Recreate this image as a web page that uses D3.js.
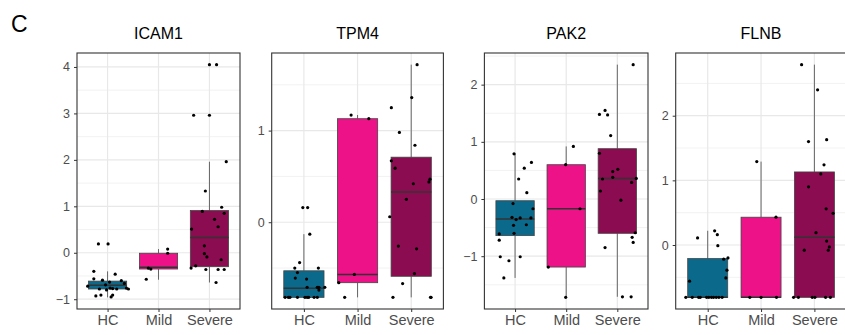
<!DOCTYPE html>
<html>
<head>
<meta charset="utf-8">
<script src="https://cdn.jsdelivr.net/npm/d3@7"></script>
<style>
  body { margin: 0; background: #fff; }
  svg { display: block; font-family: "Liberation Sans", Arial, Helvetica, sans-serif; }
</style>
</head>
<body>
<div id="chart"></div>
<script>
var genes = ["ICAM1", "TPM4", "PAK2", "FLNB"];
var groups = ["HC", "Mild", "Severe"];
var groupColors = ["#0b6a8b", "#ee1289", "#8b0c50"];

// y tick labels per gene
var icam1Ticks = [-1, 0, 1, 2, 3, 4];
var tpm4Ticks = [0, 1];
var pak2Ticks = [-1, 0, 1, 2];
var flnbTicks = [0, 1, 2];

// box stats: [lower whisker, q1, median, q3, upper whisker] for HC, Mild, Severe
var icam1Boxes = [[-0.96, -0.78, -0.70, -0.61, -0.40], [-0.58, -0.35, -0.31, -0.01, 0.08], [-0.64, -0.30, 0.33, 0.91, 1.96]];
var tpm4Boxes = [[-0.82, -0.82, -0.72, -0.53, -0.13], [-0.82, -0.66, -0.57, 1.13, 1.17], [-0.82, -0.59, 0.33, 0.71, 1.72]];
var pak2Boxes = [[-1.38, -0.64, -0.35, -0.03, 0.79], [-1.72, -1.19, -0.17, 0.60, 0.92], [-1.71, -0.60, 0.36, 0.88, 2.35]];
var flnbBoxes = [[-0.81, -0.81, -0.81, -0.21, 0.22], [-0.81, -0.81, -0.81, 0.43, 1.29], [-0.81, -0.81, 0.12, 1.13, 2.79]];

// points (values) and their horizontal jitter (in category units)
var icam1HC = [0.19, 0.19, -0.40, -0.46, -0.56, -0.59, -0.60, -0.63, -0.69, -0.72, -0.66, -0.76, -0.77, -0.78, -0.78, -0.76, -0.78, -0.93, -0.91, -0.95, -0.91, -0.80];
var icam1HCJit = [-0.18, 0.01, -0.27, 0.15, -0.27, -0.10, 0.27, 0.04, -0.04, -0.39, 0.33, 0.05, 0.10, -0.16, 0.18, 0.37, 0.41, -0.23, -0.13, 0.07, 0.10, -0.02];
var icam1Mild = [0.08, -0.01, -0.33, -0.35, -0.57];
var icam1MildJit = [0.18, 0.18, -0.20, -0.15, -0.24];
var icam1Severe = [4.05, 4.05, 2.96, 2.96, 1.96, 1.33, 0.89, 0.98, 0.85, 0.72, 0.56, 0.51, 0.15, -0.02, -0.09, -0.15, -0.33, -0.28, -0.36, -0.36, -0.36, -0.64];
var icam1SevereJit = [0, 0.14, -0.31, 0, 0.33, -0.08, -0.14, 0.24, 0.29, 0.10, 0.17, -0.35, -0.10, -0.10, -0.05, 0.23, -0.36, -0.27, -0.07, 0.17, 0.29, 0.13];

var tpm4HC = [0.16, 0.16, -0.13, -0.44, -0.50, -0.55, -0.50, -0.62, -0.61, -0.71, -0.71, -0.71, -0.71, -0.74, -0.82, -0.82, -0.82, -0.82, -0.82, -0.82, -0.82, -0.82, -0.82];
var tpm4HCJit = [-0.02, 0.07, 0.11, -0.08, -0.17, -0.12, 0.27, 0.05, -0.16, 0.28, 0.06, 0.25, 0.39, 0.28, -0.35, -0.29, -0.26, -0.12, 0.02, 0.06, 0.09, 0.19, 0.25];
var tpm4Mild = [1.17, 1.13, -0.57, -0.66, -0.82];
var tpm4MildJit = [-0.12, 0.21, -0.06, -0.35, -0.24];
var tpm4Severe = [1.72, 1.36, 1.25, 0.98, 0.84, 0.67, 0.59, 0.47, 0.44, 0.42, 0.25, 0.06, -0.26, -0.29, -0.56, -0.67, -0.82, -0.82, -0.82];
var tpm4SevereJit = [0.11, 0.01, -0.37, -0.22, 0.07, -0.37, -0.30, 0.35, 0.33, 0.04, -0.09, -0.40, -0.24, 0.10, 0.06, -0.16, -0.34, 0.36, 0.37];

var pak2HC = [0.79, 0.64, 0.54, 0.35, 0.11, -0.08, -0.17, -0.32, -0.33, -0.36, -0.33, -0.46, -0.45, -0.60, -0.61, -0.72, -1.01, -1.01, -1.08, -1.38];
var pak2HCJit = [-0.02, 0.32, 0.18, 0.07, 0.23, -0.04, 0.35, -0.06, 0.10, 0.02, 0.31, -0.03, 0.22, -0.02, -0.31, -0.31, -0.29, 0.10, -0.12, -0.22];
var pak2Mild = [0.92, 0.60, -0.17, -1.19, -1.72];
var pak2MildJit = [0.14, -0.01, 0.27, -0.35, -0.01];
var pak2Severe = [2.35, 1.48, 1.55, 1.47, 1.11, 0.80, 0.52, 0.48, 0.35, 0.38, 0.36, 0.29, 0.14, -0.02, -0.59, -0.67, -0.76, -0.85, -1.71, -1.71];
var pak2SevereJit = [0.31, -0.35, -0.24, -0.19, -0.13, -0.35, 0.01, -0.09, -0.29, -0.09, 0.37, 0.28, -0.33, 0.07, 0.35, 0.29, 0.31, -0.24, 0.10, 0.27];

var flnbHC = [0.22, 0.11, 0.16, -0.01, -0.20, -0.22, -0.39, -0.51, -0.56, -0.81, -0.81, -0.81, -0.81, -0.81, -0.81, -0.81, -0.81, -0.81, -0.81, -0.81];
var flnbHCJit = [0.13, -0.19, 0.18, 0.19, 0.38, 0.30, 0.36, 0.34, -0.34, -0.41, -0.29, -0.17, -0.14, -0.02, 0.02, 0.07, 0.11, 0.16, 0.21, 0.27];
var flnbMild = [1.29, 0.43, -0.81, -0.81, -0.81];
var flnbMildJit = [-0.08, 0.28, -0.21, 0, 0.29];
var flnbSevere = [2.79, 2.40, 1.60, 1.63, 1.24, 1.10, 0.90, 0.56, 0.49, 0.19, 0.06, -0.03, -0.08, -0.08, -0.81, -0.81, -0.81, -0.81, -0.81, -0.81];
var flnbSevereJit = [-0.24, 0.06, -0.11, 0.23, 0.18, 0.12, -0.11, 0.22, 0.35, 0.03, 0.23, 0.28, 0.26, -0.19, -0.39, -0.30, -0.04, 0.01, 0.21, 0.30];

var panels = [
  { ticks: icam1Ticks, boxes: icam1Boxes, pts: [[icam1HC, icam1HCJit], [icam1Mild, icam1MildJit], [icam1Severe, icam1SevereJit]] },
  { ticks: tpm4Ticks, boxes: tpm4Boxes, pts: [[tpm4HC, tpm4HCJit], [tpm4Mild, tpm4MildJit], [tpm4Severe, tpm4SevereJit]] },
  { ticks: pak2Ticks, boxes: pak2Boxes, pts: [[pak2HC, pak2HCJit], [pak2Mild, pak2MildJit], [pak2Severe, pak2SevereJit]] },
  { ticks: flnbTicks, boxes: flnbBoxes, pts: [[flnbHC, flnbHCJit], [flnbMild, flnbMildJit], [flnbSevere, flnbSevereJit]] }
];

// layout
var W = 845, H = 335;
var plotTop = 53, plotBottom = 309;
var lefts = [77, 271.7, 484.4, 675.7];
var rights = [240, 443.4, 648, 846.4];

var svg = d3.select("#chart").append("svg").attr("width", W).attr("height", H);

svg.append("text")
  .attr("x", 11).attr("y", 32)
  .attr("font-size", 23).attr("fill", "#000")
  .text("C");

panels.forEach(function (p, k) {
  var g = svg.append("g");
  var x0 = lefts[k], x1 = rights[k];

  // y range: data extent expanded by 5%
  var all = [];
  p.pts.forEach(function (d) { all = all.concat(d[0]); });
  p.boxes.forEach(function (b) { all = all.concat(b); });
  var ext = d3.extent(all), pad = (ext[1] - ext[0]) * 0.05;
  var y = d3.scaleLinear().domain([ext[0] - pad, ext[1] + pad]).range([plotBottom, plotTop]);
  var x = d3.scalePoint().domain(groups).range([x0, x1]).padding(0.6);
  var step = x.step();

  // minor grid at midpoints
  var t = p.ticks, st = t.length > 1 ? t[1] - t[0] : 1;
  var minor = [];
  for (var v = t[0] - st / 2; v <= y.domain()[1]; v += st) {
    if (v >= y.domain()[0]) minor.push(v);
  }
  g.selectAll(".minor").data(minor).enter().append("line")
    .attr("x1", x0).attr("x2", x1)
    .attr("y1", function (d) { return y(d); }).attr("y2", function (d) { return y(d); })
    .attr("stroke", "#f0f0f0").attr("stroke-width", 0.9);
  g.selectAll(".major").data(t).enter().append("line")
    .attr("x1", x0).attr("x2", x1)
    .attr("y1", function (d) { return y(d); }).attr("y2", function (d) { return y(d); })
    .attr("stroke", "#e8e8e8").attr("stroke-width", 1.2);
  g.selectAll(".vmajor").data(groups).enter().append("line")
    .attr("x1", function (d) { return x(d); }).attr("x2", function (d) { return x(d); })
    .attr("y1", plotTop).attr("y2", plotBottom)
    .attr("stroke", "#e8e8e8").attr("stroke-width", 1.2);

  // boxes
  var bw = step * 0.75;
  p.boxes.forEach(function (b, i) {
    var cx = x(groups[i]);
    g.append("line").attr("x1", cx).attr("x2", cx)
      .attr("y1", y(b[4])).attr("y2", y(b[3]))
      .attr("stroke", "#444").attr("stroke-width", 0.8);
    g.append("line").attr("x1", cx).attr("x2", cx)
      .attr("y1", y(b[1])).attr("y2", y(b[0]))
      .attr("stroke", "#444").attr("stroke-width", 0.8);
    g.append("rect")
      .attr("x", cx - bw / 2).attr("width", bw)
      .attr("y", y(b[3])).attr("height", Math.max(0, y(b[1]) - y(b[3])))
      .attr("fill", groupColors[i]).attr("stroke", "#444").attr("stroke-width", 0.8);
    g.append("line").attr("x1", cx - bw / 2).attr("x2", cx + bw / 2)
      .attr("y1", y(b[2])).attr("y2", y(b[2]))
      .attr("stroke", "#333").attr("stroke-width", 1.5);
  });

  // jittered points
  p.pts.forEach(function (d, i) {
    var cx = x(groups[i]);
    g.selectAll(".pt" + i).data(d[0]).enter().append("circle")
      .attr("cx", function (v, j) { return cx + d[1][j] * step; })
      .attr("cy", function (v) { return y(v); })
      .attr("r", 1.6).attr("fill", "#000");
  });

  // border
  g.append("rect").attr("x", x0).attr("y", plotTop)
    .attr("width", x1 - x0).attr("height", plotBottom - plotTop)
    .attr("fill", "none").attr("stroke", "#333").attr("stroke-width", 1.1);

  // axes
  var ya = g.append("g").attr("transform", "translate(" + x0 + ",0)")
    .call(d3.axisLeft(y).tickValues(t).tickSize(3).tickPadding(4)
      .tickFormat(function (d) { return d < 0 ? "\u2212" + Math.abs(d) : d; }));
  var xa = g.append("g").attr("transform", "translate(0," + plotBottom + ")")
    .call(d3.axisBottom(x).tickSize(3).tickPadding(3));
  [ya, xa].forEach(function (a) {
    a.select(".domain").remove();
    a.selectAll(".tick line").attr("stroke", "#333").attr("stroke-width", 1);
    a.selectAll(".tick text").attr("fill", "#4d4d4d")
      .attr("font-family", "'Liberation Sans', Arial, sans-serif");
  });
  ya.selectAll(".tick text").attr("font-size", 12.5);
  xa.selectAll(".tick text").attr("font-size", 14.5);

  // title
  svg.append("text")
    .attr("x", (x0 + x1) / 2).attr("y", 39)
    .attr("text-anchor", "middle").attr("font-size", 16).attr("fill", "#000")
    .text(genes[k]);
});
</script>
</body>
</html>
